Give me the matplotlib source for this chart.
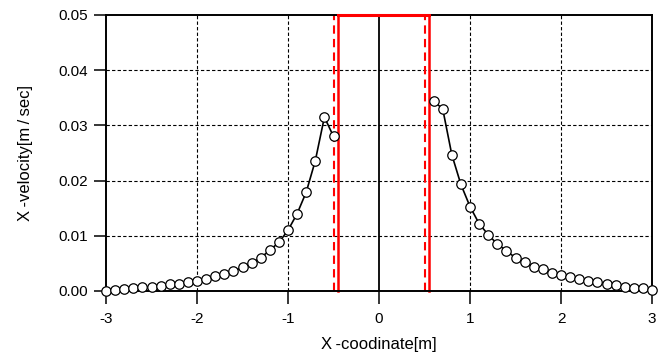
import matplotlib.pyplot as plt
import numpy as np

plt.rcParams['font.family'] = ['Liberation Sans', 'DejaVu Sans']

# left branch of the profile
x_left = [-3.0, -2.9, -2.8, -2.7, -2.6, -2.5, -2.4, -2.3, -2.2, -2.1, -2.0, -1.9, -1.8,
          -1.7, -1.6, -1.5, -1.4, -1.3, -1.2, -1.1, -1.0, -0.9, -0.8, -0.7, -0.6, -0.5]
v_left = [0.0000, 0.0002, 0.0004, 0.0005, 0.0007, 0.0008, 0.0009, 0.0013, 0.0013, 0.0016,
          0.0019, 0.0022, 0.0027, 0.0030, 0.0036, 0.0043, 0.0051, 0.0060, 0.0074, 0.0088,
          0.0110, 0.0140, 0.0179, 0.0236, 0.0315, 0.0280]

# right branch
x_right = [0.6, 0.7, 0.8, 0.9, 1.0, 1.1, 1.2, 1.3, 1.4, 1.5, 1.6, 1.7, 1.8,
           1.9, 2.0, 2.1, 2.2, 2.3, 2.4, 2.5, 2.6, 2.7, 2.8, 2.9, 3.0]
v_right = [0.0344, 0.0330, 0.0247, 0.0193, 0.0153, 0.0122, 0.0102, 0.0085, 0.0073, 0.0060,
           0.0052, 0.0044, 0.0039, 0.0033, 0.0029, 0.0025, 0.0022, 0.0018, 0.0016, 0.0013,
           0.0011, 0.0008, 0.0006, 0.0005, 0.0001]

box_x = [-0.45, 0.55]     # solid red box edges
dash_x = [-0.5, 0.5]      # dashed red lines
x_ticks = [-3, -2, -1, 0, 1, 2, 3]
y_ticks = [0.00, 0.01, 0.02, 0.03, 0.04, 0.05]

fig = plt.figure(figsize=(6.63, 3.56), dpi=100)
ax = fig.add_axes([106/663, 1 - 291/356, 546/663, 276/356])

ax.set_xlim(-3, 3)
ax.set_ylim(0, 0.05)
ax.set_xticks(x_ticks)
ax.set_yticks(y_ticks)
ax.set_xticklabels([str(t) for t in x_ticks])
ax.set_yticklabels(['%.2f' % t for t in y_ticks])

# grid (dashed), center line solid
for t in x_ticks[1:-1]:
    if t == 0:
        ax.axvline(t, color='black', lw=1.3, zorder=1)
    else:
        ax.axvline(t, color='black', lw=0.8, ls=(0, (3, 2)), zorder=1)
for t in y_ticks[1:-1]:
    ax.axhline(t, color='black', lw=0.8, ls=(0, (3, 2)), zorder=1)

# red box and dashed lines
for xb in box_x:
    ax.plot([xb, xb], [0, 0.05], color='red', lw=1.8, zorder=2, clip_on=False)
ax.plot(box_x, [0.05, 0.05], color='red', lw=2.2, zorder=4, clip_on=False)
for xd in dash_x:
    ax.plot([xd, xd], [0, 0.05], color='red', lw=1.5, ls=(0, (4, 2.5)), zorder=2)

for xs, vs in [(x_left, v_left), (x_right, v_right)]:
    ax.plot(xs, vs, color='black', lw=1.2, marker='o', ms=6.8, mfc='white', mec='black',
            mew=0.9, zorder=3, clip_on=False)

for s in ax.spines.values():
    s.set_linewidth(1.4)
ax.tick_params(direction='out', length=9, width=1.1, labelsize=11)
ax.tick_params(axis='y', pad=4)
ax.tick_params(axis='x', pad=6)
ax.set_xlabel('X\u2009-coodinate[m]', fontsize=12, labelpad=8)
ax.set_ylabel('X\u2009-velocity[m\u2009/\u2009sec]', fontsize=12, labelpad=18)

fig.savefig('out.png', dpi=100)
